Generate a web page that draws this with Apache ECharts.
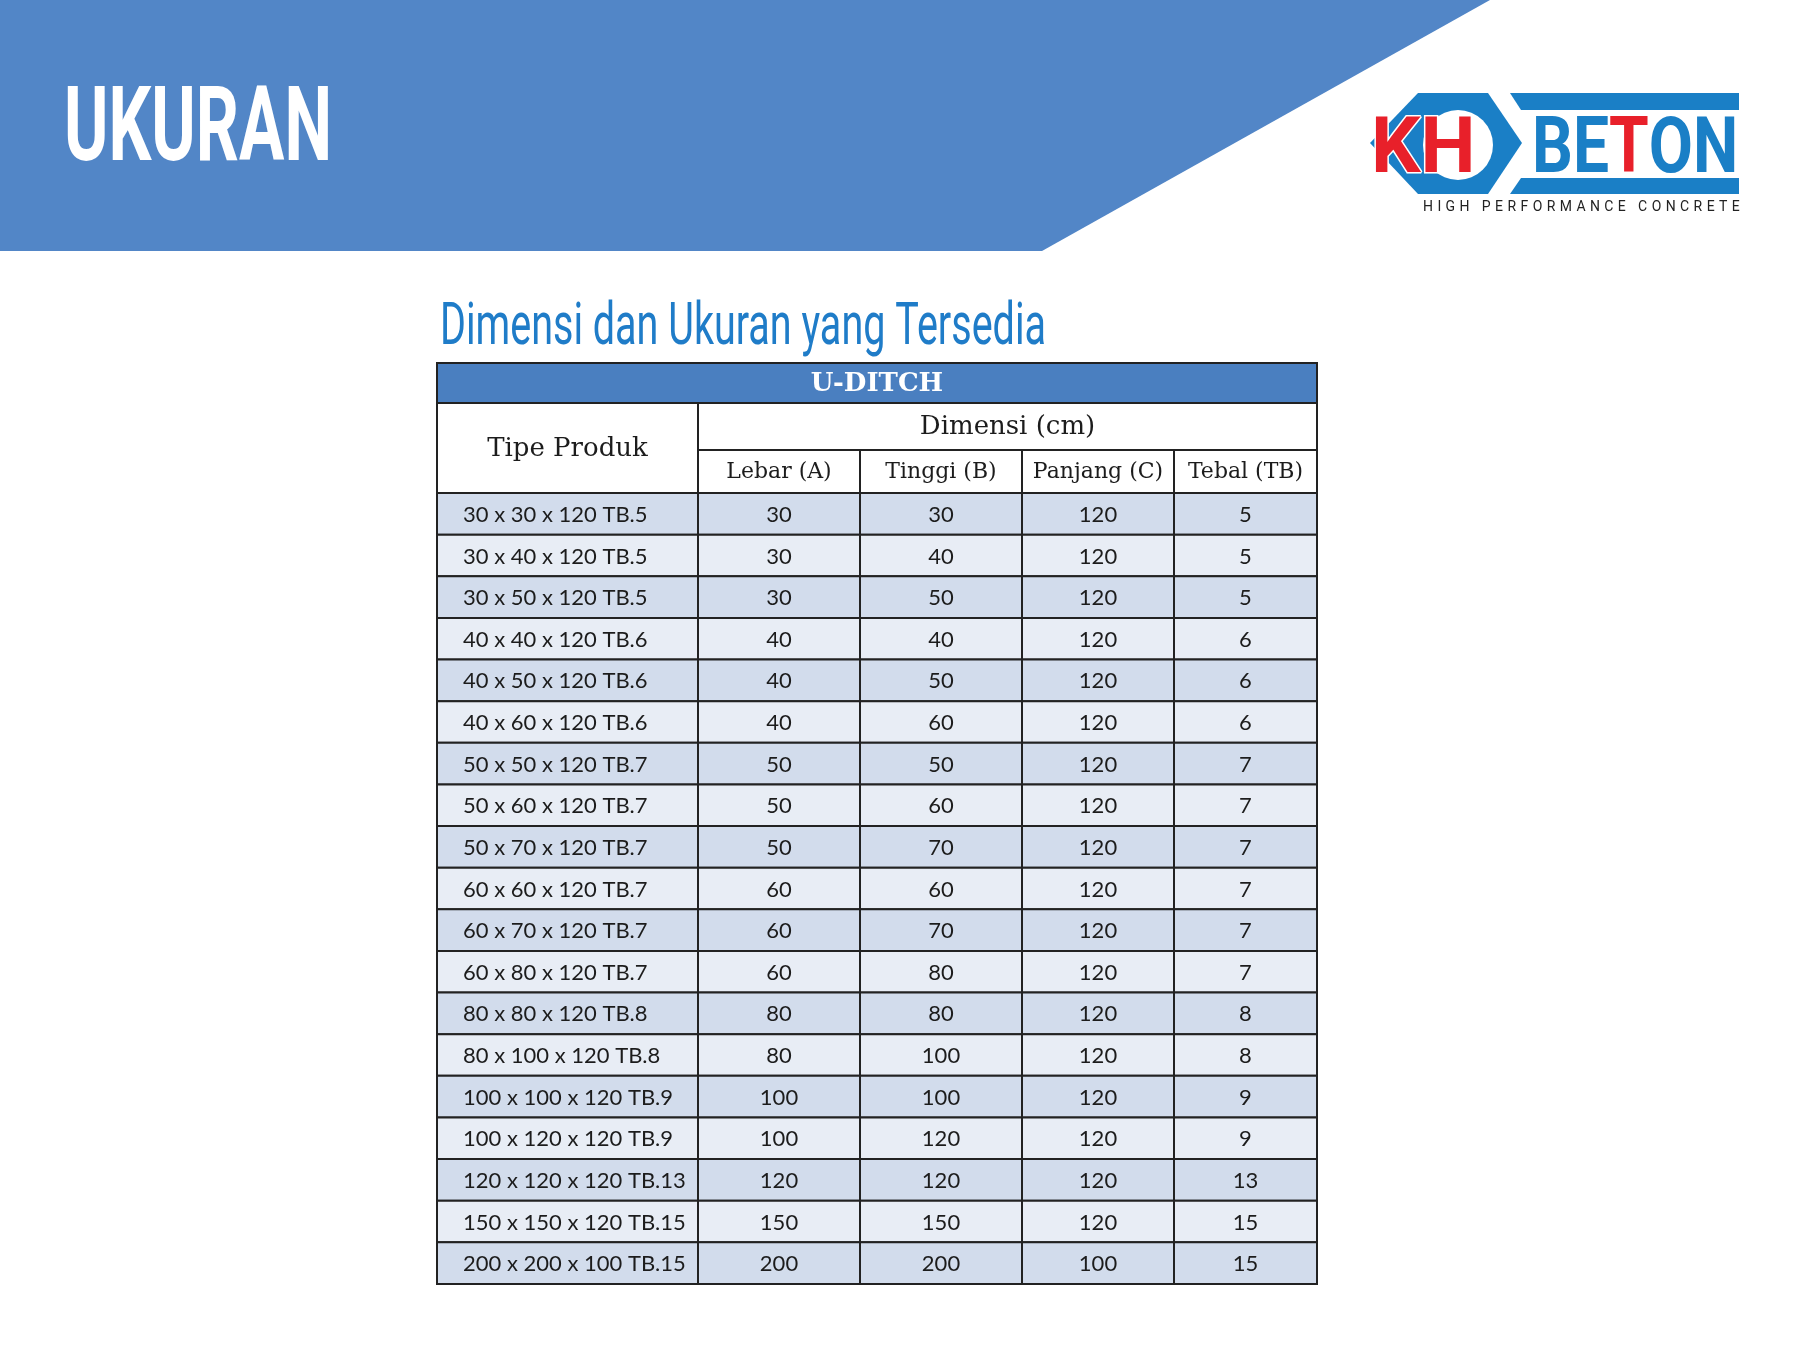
<!DOCTYPE html>
<html>
<head>
<meta charset="utf-8">
<title>Ukuran U-Ditch</title>
<script src="https://cdn.jsdelivr.net/npm/echarts@6/dist/echarts.min.js"></script>
<style>
  html, body { margin: 0; padding: 0; background: #fff; }
  #main { width: 1800px; height: 1350px; }
</style>
</head>
<body>
<div id="main"></div>
<script>
// table data
var tableTitle = 'U-DITCH';
var pageTitle = 'UKURAN';
var subTitle = 'Dimensi dan Ukuran yang Tersedia';
var rowHeader = 'Tipe Produk';
var groupHeader = 'Dimensi (cm)';
var columnLabels = ['Lebar (A)', 'Tinggi (B)', 'Panjang (C)', 'Tebal (TB)'];

var productTypes = [
  '30 x 30 x 120 TB.5', '30 x 40 x 120 TB.5', '30 x 50 x 120 TB.5',
  '40 x 40 x 120 TB.6', '40 x 50 x 120 TB.6', '40 x 60 x 120 TB.6',
  '50 x 50 x 120 TB.7', '50 x 60 x 120 TB.7', '50 x 70 x 120 TB.7',
  '60 x 60 x 120 TB.7', '60 x 70 x 120 TB.7', '60 x 80 x 120 TB.7',
  '80 x 80 x 120 TB.8', '80 x 100 x 120 TB.8', '100 x 100 x 120 TB.9',
  '100 x 120 x 120 TB.9', '120 x 120 x 120 TB.13', '150 x 150 x 120 TB.15',
  '200 x 200 x 100 TB.15'
];
var lebar   = [30, 30, 30, 40, 40, 40, 50, 50, 50, 60, 60, 60, 80, 80, 100, 100, 120, 150, 200];
var tinggi  = [30, 40, 50, 40, 50, 60, 50, 60, 70, 60, 70, 80, 80, 100, 100, 120, 120, 150, 200];
var panjang = [120, 120, 120, 120, 120, 120, 120, 120, 120, 120, 120, 120, 120, 120, 120, 120, 120, 120, 100];
var tebal   = [5, 5, 5, 6, 6, 6, 7, 7, 7, 7, 7, 7, 8, 8, 9, 9, 13, 15, 15];

// layout (px units inside the table)
var colEdges = [0, 261, 423, 585, 737, 880];
var headRowEdges = [0, 40, 87, 130];

var columns = [productTypes, lebar, tinggi, panjang, tebal];

var headBlue = '#4a7fc0';
var rowDark = '#d2dcec';
var rowLight = '#e8edf5';
var lineColor = '#222';
var textColor = '#1c1c1c';

var chart = echarts.init(document.getElementById('main'));

function textWidth(str, font) {
  var ctx = document.createElement('canvas').getContext('2d');
  ctx.font = font;
  return ctx.measureText(str).width;
}

// header cells: [colFrom, colTo, rowFrom, rowTo]
var headCells = [[0, 5, 0, 1], [0, 1, 1, 3], [1, 5, 1, 2]];
var headTexts = [tableTitle, rowHeader, groupHeader];
for (var i = 0; i < columnLabels.length; i++) {
  headCells.push([i + 1, i + 2, 2, 3]);
  headTexts.push(columnLabels[i]);
}

var bodyData = [];
for (var r = 0; r < productTypes.length; r++) {
  for (var c = 0; c < columns.length; c++) {
    bodyData.push([c, r]);
  }
}

function renderHead(params, api) {
  var cell = headCells[params.dataIndex];
  var p0 = api.coord([colEdges[cell[0]], headRowEdges[cell[2]]]);
  var p1 = api.coord([colEdges[cell[1]], headRowEdges[cell[3]]]);
  var isTitle = params.dataIndex === 0;
  var isSub = cell[2] === 2;
  return {
    type: 'group',
    children: [{
      type: 'rect',
      shape: { x: p0[0], y: p0[1], width: p1[0] - p0[0], height: p1[1] - p0[1] },
      style: { fill: isTitle ? headBlue : '#fff', stroke: lineColor, lineWidth: 2 }
    }, {
      type: 'text',
      style: {
        text: headTexts[params.dataIndex],
        x: (p0[0] + p1[0]) / 2,
        y: (p0[1] + p1[1]) / 2 + 1,
        align: 'center',
        verticalAlign: 'middle',
        fill: isTitle ? '#fff' : textColor,
        fontFamily: 'DejaVu Serif',
        fontWeight: isTitle ? 'bold' : 'normal',
        fontSize: isTitle ? 26 : (isSub ? 22 : 26)
      }
    }]
  };
}

function renderBody(params, api) {
  var c = api.value(0), r = api.value(1);
  var p0 = api.coord([colEdges[c], r]);
  var p1 = api.coord([colEdges[c + 1], r]);
  var h = api.size([0, 1])[1];
  var label = String(columns[c][r]);
  return {
    type: 'group',
    children: [{
      type: 'rect',
      shape: { x: p0[0], y: p0[1] - h / 2, width: p1[0] - p0[0], height: h },
      style: { fill: r % 2 === 0 ? rowDark : rowLight, stroke: lineColor, lineWidth: 2 }
    }, {
      type: 'text',
      style: {
        text: label,
        x: c === 0 ? p0[0] + 26 : (p0[0] + p1[0]) / 2,
        y: p0[1] + 1,
        align: c === 0 ? 'left' : 'center',
        verticalAlign: 'middle',
        fill: textColor,
        fontFamily: 'Lato',
        fontSize: 22
      }
    }]
  };
}

// title fonts squeezed to the condensed look of the original
var titleFont = 'bold 104px Roboto';
var titleScale = 268 / textWidth(pageTitle, titleFont);
var subFont = '60px Roboto';
var subScale = 606 / textWidth(subTitle, subFont);
var betonFont = 'bold 78px Roboto';
var betonScale = 206 / textWidth('BETON', betonFont);

// tagline letters spread across the logo width
var tagline = 'HIGH PERFORMANCE CONCRETE';
var tagFont = '14px Roboto';
var tagChars = [];
var tagNatural = textWidth(tagline, tagFont);
var tagGap = (317 - tagNatural) / (tagline.length - 1);
var tx = 1423;
for (var k = 0; k < tagline.length; k++) {
  var ch = tagline.charAt(k);
  tagChars.push({
    type: 'text', x: tx, y: 207,
    style: { text: ch, fill: '#222', font: tagFont, align: 'left', verticalAlign: 'middle' }
  });
  tx += textWidth(ch, tagFont) + tagGap;
}

var graphics = [
  {
    type: 'polygon',
    shape: { points: [[0, 0], [1490, 0], [1042, 251], [0, 251]] },
    style: { fill: '#5286c7' }
  },
  {
    type: 'text', x: 64, y: 134, scaleX: titleScale,
    style: { text: pageTitle, fill: '#fff', font: titleFont, align: 'left', verticalAlign: 'middle' }
  },
  {
    type: 'text', x: 440, y: 329, scaleX: subScale,
    style: { text: subTitle, fill: '#1f7cc8', font: subFont, align: 'left', verticalAlign: 'middle' }
  },
  // logo
  {
    type: 'polygon',
    shape: { points: [[1370, 143], [1418, 93], [1488, 93], [1522, 143], [1488, 194], [1418, 194]] },
    style: { fill: '#1a7fc6' }
  },
  {
    type: 'circle',
    shape: { cx: 1458, cy: 145, r: 35 },
    style: { fill: '#fff' }
  },
  {
    type: 'polygon',
    shape: { points: [[1510, 93], [1739, 93], [1739, 110], [1521, 110]] },
    style: { fill: '#1a7fc6' }
  },
  {
    type: 'polygon',
    shape: { points: [[1521, 178], [1739, 178], [1739, 194], [1510, 194]] },
    style: { fill: '#1a7fc6' }
  },
  {
    type: 'text', x: 1371, y: 152,
    style: {
      text: 'KH', fill: '#e8202a', font: 'bold 78px Roboto',
      stroke: '#fff', lineWidth: 3, align: 'left', verticalAlign: 'middle'
    }
  },
  {
    type: 'text', x: 1532, y: 152, scaleX: betonScale,
    style: {
      text: '{b|BE}{r|T}{b|ON}', align: 'left', verticalAlign: 'middle',
      rich: {
        b: { fill: '#1a7fc6', font: betonFont },
        r: { fill: '#e8202a', font: betonFont }
      }
    }
  }
].concat(tagChars);

var option = {
  backgroundColor: '#fff',
  animation: false,
  graphic: graphics,
  grid: [
    { left: 437, top: 363, width: 880, height: 130 },
    { left: 437, top: 493, width: 880, height: 791 }
  ],
  xAxis: [
    { type: 'value', gridIndex: 0, min: 0, max: 880, show: false },
    { type: 'value', gridIndex: 1, min: 0, max: 880, show: false }
  ],
  yAxis: [
    { type: 'value', gridIndex: 0, min: 0, max: 130, inverse: true, show: false },
    { type: 'category', gridIndex: 1, data: productTypes, inverse: true, show: false }
  ],
  series: [
    {
      type: 'custom', xAxisIndex: 0, yAxisIndex: 0, clip: false,
      renderItem: renderHead,
      data: headCells.map(function (h, i) { return [i]; })
    },
    {
      type: 'custom', xAxisIndex: 1, yAxisIndex: 1, clip: false,
      renderItem: renderBody,
      data: bodyData
    }
  ]
};

chart.setOption(option);
</script>
</body>
</html>
